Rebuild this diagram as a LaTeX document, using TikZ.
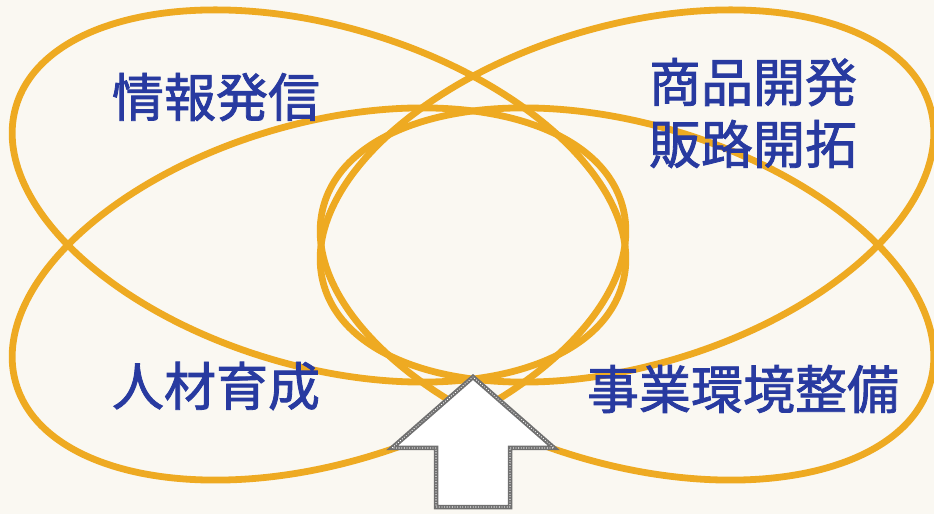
\documentclass[tikz,border=0pt]{standalone}
\usepackage{fontspec}
\newfontfamily\jpfont[FakeBold=1.6]{Noto Sans CJK JP}
\definecolor{loop}{RGB}{238,170,34}
\definecolor{txt}{RGB}{40,58,160}
\definecolor{arrowgray}{RGB}{112,112,112}
\definecolor{paper}{RGB}{250,248,242}
\begin{document}
\begin{tikzpicture}[x=1pt,y=1pt,
  petal/.style={draw=loop, line width=6.8pt},
  label/.style={text=txt, font=\jpfont\fontsize{52}{62}\selectfont, inner sep=0pt, align=center},
  hollowarrow/.style={draw=arrowgray, line width=4.5pt, fill=white, line join=miter},
  arrowdots/.style={draw=white, line width=1.3pt, line cap=round, dash pattern=on 0.01pt off 2.6pt}]
\useasboundingbox (0,0) rectangle (934,514);
\fill[paper] (0,0) rectangle (934,514);
% four petals
\draw[petal, rotate around={-16.5:(319,318)}] (319,318) ellipse [x radius=316, y radius=170];
\draw[petal, rotate around={16.5:(627,318)}] (627,318) ellipse [x radius=316, y radius=170];
\draw[petal, rotate around={16.5:(319,220)}] (319,220) ellipse [x radius=316, y radius=170];
\draw[petal, rotate around={-16.5:(627,220)}] (627,220) ellipse [x radius=316, y radius=170];
% arrow
\coordinate (tip) at (473,137);
\coordinate (lw) at (392,66);
\coordinate (ls) at (436,66);
\coordinate (lb) at (436,7);
\coordinate (rb) at (510,7);
\coordinate (rs) at (510,66);
\coordinate (rw) at (554,66);
\draw[hollowarrow] (tip) -- (lw) -- (ls) -- (lb) -- (rb) -- (rs) -- (rw) -- cycle;
\draw[arrowdots] (tip) -- (lw) -- (ls) -- (lb) -- (rb) -- (rs) -- (rw) -- cycle;
% labels
\node[label] (info) at (216,417) {情報発信};
\node[label] (prod) at (753,401) {商品開発\\販路開拓};
\node[label] (hr) at (216,128) {人材育成};
\node[label] (env) at (743,125) {事業環境整備};
\end{tikzpicture}
\end{document}
